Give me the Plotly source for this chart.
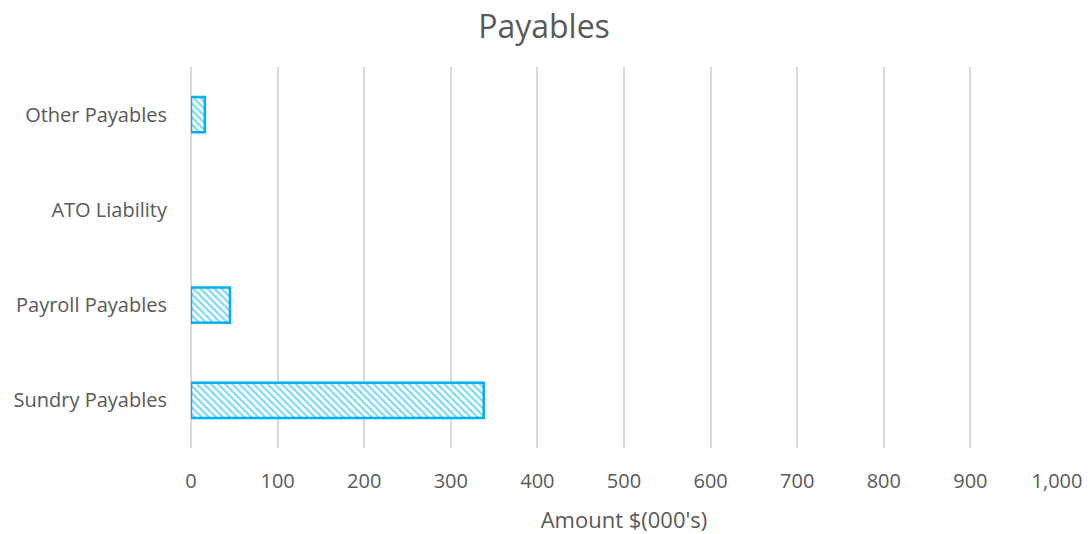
import plotly.graph_objects as go

# Payables by category, in thousands of dollars
categories = ["Sundry Payables", "Payroll Payables", "ATO Liability", "Other Payables"]
amounts = [338, 45, 0, 16]
x_ticks = [0, 100, 200, 300, 400, 500, 600, 700, 800, 900, 1000]
x_tick_labels = ["0", "100", "200", "300", "400", "500", "600", "700", "800", "900", "1,000"]

BLUE = "#00B0F0"
TEXT = "#595959"
GRID = "#D9D9D9"

# empty categories get no outline so nothing is drawn for them
outline_widths = [2.5 if v > 0 else 0 for v in amounts]

fig = go.Figure(
    go.Bar(
        y=categories,
        x=amounts,
        orientation="h",
        width=0.37,
        marker=dict(
            color="white",
            line=dict(color=BLUE, width=outline_widths),
            pattern=dict(shape="\\", fgcolor=BLUE, bgcolor="white", size=5, solidity=0.45),
        ),
        hoverinfo="x+y",
    )
)

fig.update_layout(
    width=1088,
    height=534,
    margin=dict(l=191, r=31, t=67, b=86, autoexpand=False),
    paper_bgcolor="white",
    plot_bgcolor="white",
    font=dict(family="Open Sans", color=TEXT, size=20),
    title=dict(
        text="Payables",
        x=0.5,
        xanchor="center",
        y=0.949,
        yanchor="middle",
        font=dict(size=32, color=TEXT, family="Open Sans"),
    ),
    showlegend=False,
)

fig.update_xaxes(
    range=[0, 1000],
    tickvals=x_ticks,
    ticktext=x_tick_labels,
    showgrid=True,
    gridcolor=GRID,
    gridwidth=2,
    zeroline=True,
    zerolinecolor=GRID,
    zerolinewidth=2,
    showline=False,
    ticks="",
    ticklabelstandoff=19,
    automargin=False,
    title=dict(text="Amount $(000's)", font=dict(size=22, color=TEXT), standoff=19),
    tickfont=dict(size=20, color=TEXT),
)

fig.update_yaxes(
    categoryorder="array",
    categoryarray=categories,
    showgrid=False,
    zeroline=False,
    showline=False,
    ticks="",
    ticklabelstandoff=23,
    automargin=False,
    tickfont=dict(size=20, color=TEXT),
)

fig.write_html("out.html")
